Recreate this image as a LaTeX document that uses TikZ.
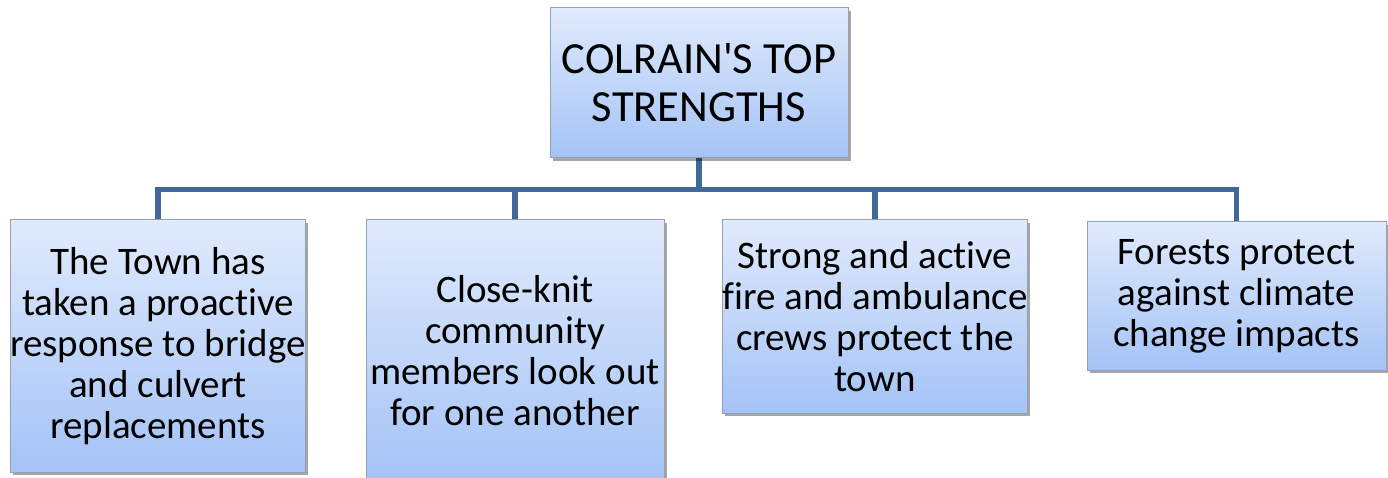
\documentclass[tikz,border=0pt]{standalone}
\usepackage{fontspec}
\setmainfont{Carlito}[Ligatures=NoCommon]
\usetikzlibrary{shadows,backgrounds}
\definecolor{boxtop}{RGB}{224,234,252}
\definecolor{boxbot}{RGB}{164,195,246}
\definecolor{boxedge}{RGB}{150,160,176}
\definecolor{linkblue}{RGB}{64,104,152}
\tikzset{
  card/.style={rectangle, draw=boxedge, line width=1pt,
    top color=boxtop, bottom color=boxbot, inner sep=0pt,
    align=center, text=black,
    drop shadow={shadow xshift=2.5pt, shadow yshift=-3pt, fill=black, opacity=0.35}},
  headcard/.style={card, font=\fontsize{44.5}{48}\selectfont},
  leafcard/.style={card, font=\fontsize{39}{41}\selectfont},
  link/.style={draw=linkblue, line width=5.5pt, line join=miter}
}
\begin{document}
\begin{tikzpicture}[x=1pt, y=-1pt]
  \useasboundingbox (0,0) rectangle (1388,478);

  \node[headcard, minimum width=298pt, minimum height=150pt] (head) at (699,83)
    {COLRAIN\textquotesingle S TOP\\STRENGTHS};

  \node[leafcard, minimum width=292pt, minimum height=252pt] (c1) at (158,346)
    {The Town has\\taken a proactive\\response to bridge\\and culvert\\replacements};
  \node[leafcard, minimum width=298pt, minimum height=262pt] (c2) at (515,351)
    {Close-knit\\community\\members look out\\for one another};
  \node[leafcard, minimum width=298pt, minimum height=193pt] (c3) at (875,316.5)
    {Strong and active\\fire and ambulance\\crews protect the\\town};
  \node[leafcard, minimum width=299pt, minimum height=148pt] (c4) at (1236.5,296)
    {Forests protect\\against climate\\change impacts};

  \coordinate (bar) at (0,189.5);

  \begin{scope}[on background layer]
    \fill[white] (0,0) rectangle (1388,478);
    \foreach \leaf in {c1,c2,c3,c4}
      \draw[link] (head.south) -- (head.south |- bar) -| (\leaf.north);
  \end{scope}
\end{tikzpicture}
\end{document}
